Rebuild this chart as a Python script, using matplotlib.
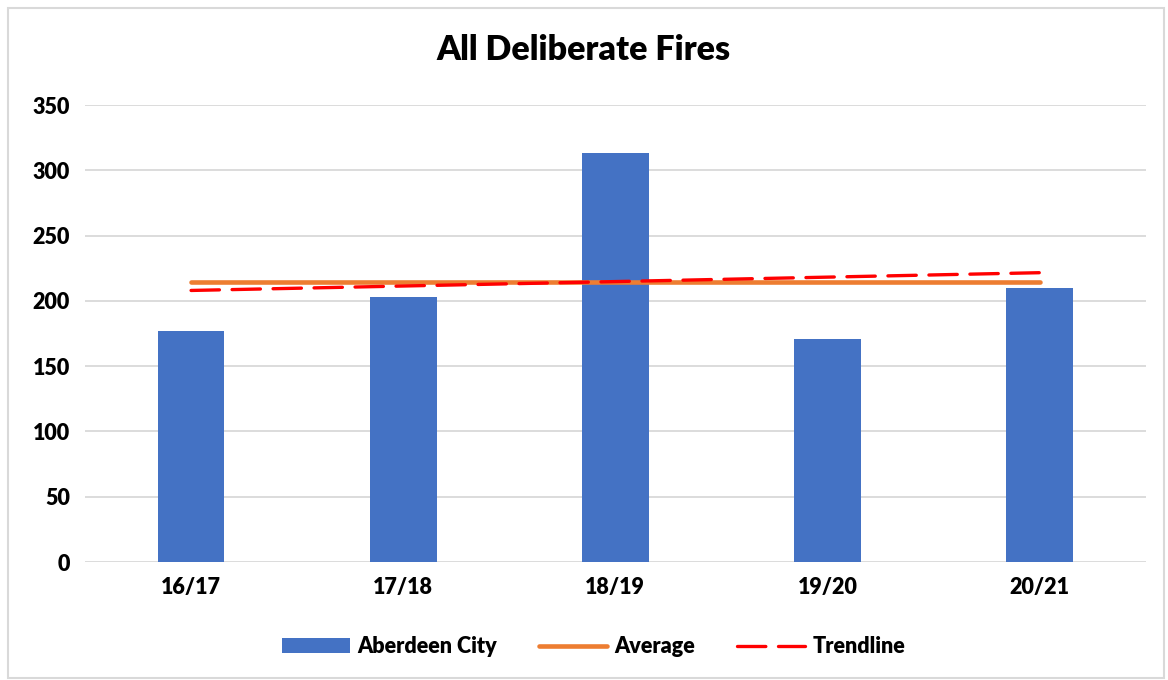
import numpy as np
import matplotlib.pyplot as plt
from matplotlib.patches import Rectangle

# data
years = ['16/17', '17/18', '18/19', '19/20', '20/21']
fires = [177, 203, 313, 171, 210]

x = np.arange(len(years))
avg = np.mean(fires)
slope, icpt = np.polyfit(x, fires, 1)   # excel style linear trendline

plt.rcParams['font.family'] = ['Lato', 'DejaVu Sans']

fig = plt.figure(figsize=(11.68, 6.8), dpi=100)
ax = fig.add_axes([0.0728, 0.1735, 0.908, 0.672])

b = ax.bar(x, fires, width=0.315, color='#4472C4', label='Aberdeen City', zorder=2)
l1, = ax.plot(x, avg + 0*x, color='#ED7D31', lw=3.3, solid_capstyle='round',
              label='Average', zorder=3)
l2, = ax.plot(x, icpt + slope*x, color='#FF0000', lw=2.4, dashes=(8.5, 3.8),
              dash_capstyle='round', label='Trendline', zorder=4)

ax.set_xlim(-0.5, len(years) - 0.5)
ax.set_ylim(0, 350)
ax.set_yticks(np.arange(0, 351, 50))
ax.set_xticks(x)
ax.set_xticklabels(years)
ax.tick_params(length=0, labelsize=15.5, pad=11)
for lab in ax.get_xticklabels() + ax.get_yticklabels():
    lab.set_fontweight('heavy')
ax.grid(axis='y', color='#d9d9d9', lw=1.3, zorder=0)
ax.set_axisbelow(True)
for s in ax.spines.values():
    s.set_visible(False)

fig.text(0.5, 0.926, 'All Deliberate Fires', ha='center', va='center',
         fontsize=24.5, fontweight='heavy')

fig.legend([b, l1, l2], ['Aberdeen City', 'Average', 'Trendline'],
           loc='center', bbox_to_anchor=(0.508, 0.049), ncol=3, frameon=False,
           prop={'size': 15.5, 'weight': 'heavy'}, handlelength=3.15,
           columnspacing=1.95, handletextpad=0.35)

# light outer border like the excel chart area
fig.patches.append(Rectangle((0.007, 0.003), 0.99, 0.985, transform=fig.transFigure,
                             fill=False, ec='#d9d9d9', lw=1.5))

plt.savefig('out.png', dpi=100)
